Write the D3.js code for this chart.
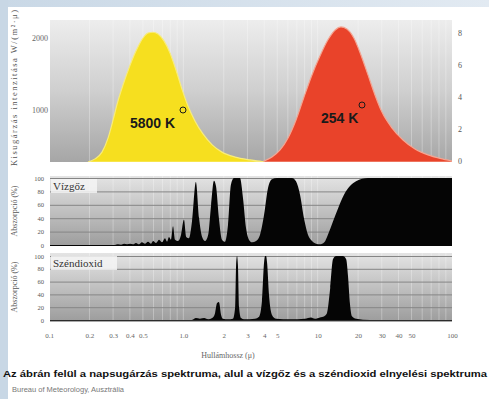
<!DOCTYPE html>
<html>
<head>
<meta charset="utf-8">
<script src="https://cdn.jsdelivr.net/npm/d3@7"></script>
<style>
  html, body { margin: 0; padding: 0; background: #fff; }
  svg { display: block; }
</style>
</head>
<body>
<svg id="chart" width="489" height="399"></svg>
<script>
// wavelength axis (micron, log)
var xTicks = [0.1, 0.2, 0.3, 0.4, 0.5, 1, 2, 3, 4, 5, 10, 20, 30, 40, 50, 100],
    xTickLabels = ["0.1", "0.2", "0.3", "0.4", "0.5", "1.0", "2", "3", "4", "5", "10", "20", "30", "40", "50", "100"];

var sunTicks = [1000, 2000],
    earthTicks = [0, 2, 4, 6, 8],
    absTicks = [0, 20, 40, 60, 80, 100];

// 5800 K sun curve (left axis)
var sunWave = [0.195, 0.22, 0.248, 0.275, 0.30, 0.321, 0.356, 0.401, 0.452, 0.501, 0.546, 0.595, 0.648,
               0.718, 0.796, 0.882, 0.977, 1.083, 1.22, 1.40, 1.64, 1.94, 2.43, 3.14, 3.85, 4.81];
var sunPower = [0, 60, 190, 460, 810, 1080, 1350, 1620, 1850, 2000, 2070, 2080, 2055,
                1960, 1790, 1555, 1290, 1055, 790, 540, 330, 190, 95, 40, 10, 0];

// 254 K earth curve (right axis)
var earthWave = [3.99, 4.57, 5.25, 6.02, 6.90, 7.91, 9.07, 10.4, 11.9, 13.5, 14.9, 16.5,
                 18.6, 21.0, 23.7, 26.7, 30.1, 35.8, 43.2, 53.0, 66.3, 81.5, 100];
var earthPower = [0, 0.25, 0.69, 1.44, 2.56, 4.0, 5.38, 6.56, 7.56, 8.19, 8.38, 8.25,
                  7.69, 6.63, 5.38, 4.13, 3.06, 2.06, 1.31, 0.75, 0.38, 0.16, 0];

// water vapour absorption (%)
var waterWave = [0.1, 0.310, 0.326, 0.344, 0.362, 0.381, 0.401, 0.422, 0.444, 0.468, 0.492, 0.518,
                 0.546, 0.575, 0.595, 0.626, 0.659, 0.694, 0.730, 0.756, 0.782, 0.809, 0.838, 0.867,
                 0.913, 0.961, 1.01, 1.05, 1.10, 1.16, 1.24, 1.31, 1.38, 1.45, 1.53, 1.61, 1.69, 1.75,
                 1.84, 1.94, 2.04, 2.15, 2.26, 2.38, 2.64, 2.78, 2.93, 3.08, 3.25, 3.48, 3.72, 3.99,
                 4.27, 4.57, 4.98, 6.44, 6.90, 7.39, 7.91, 8.48, 9.08, 9.72, 10.4, 11.2, 11.9, 13.0,
                 14.2, 15.7, 17.4, 19.3, 21.4, 23.7, 100];
var waterAbs = [0, 0, 1, 0.5, 2, 1, 2, 1, 3, 1, 4, 2,
                5, 2, 6, 3, 8, 4, 10, 5, 12, 8, 28, 8,
                6, 15, 38, 12, 10, 35, 94, 40, 12, 6, 15, 60, 96, 88,
                40, 8, 5, 30, 90, 100, 100, 70, 25, 8, 4, 6, 15, 45,
                85, 98, 100, 100, 95, 75, 40, 15, 6, 2, 1, 4, 15, 35,
                55, 75, 88, 95, 99, 100, 100];

// carbon dioxide absorption (%)
var co2Wave = [0.1, 1.16, 1.24, 1.33, 1.43, 1.53, 1.64, 1.72, 1.78, 1.84, 1.91, 1.97, 2.15,
               2.34, 2.43, 2.47, 2.51, 2.55, 2.60, 2.69, 2.83, 3.42, 3.66, 3.85, 3.99, 4.06,
               4.13, 4.20, 4.34, 4.57, 4.90, 6.23, 8.05, 8.92, 9.55, 10.4, 11.2, 11.7, 12.4,
               13.0, 13.7, 15.4, 16.3, 16.8, 17.4, 18.0, 19.3, 24.5, 100];
var co2Abs = [0, 0, 3, 2, 3, 1, 3, 10, 26, 28, 8, 2, 1,
              2, 20, 85, 100, 85, 20, 3, 1, 2, 5, 30, 90, 100,
              100, 90, 40, 8, 2, 1, 2, 4, 2, 4, 6, 10, 50,
              95, 100, 100, 95, 70, 25, 6, 2, 0, 0];

var svg = d3.select("#chart");
var serif = "'Liberation Serif', 'DejaVu Serif', serif",
    sans = "'Liberation Sans', Arial, sans-serif";

//^^^^^^^^^^^^^^^^^^^^^^^^^^^^^^^^^^^^^^^^^^^^^^^^^^^^^^^^^^^^^^^^^^^^^^^^^^^^^^
// Scales
//------------------------------------------------------------------------------
var x = d3.scaleLog().domain([0.1, 100]).range([49, 452]);

var ySun = d3.scaleLinear().domain([0, 1000, 2000]).range([162, 110, 38]),
    yEarth = d3.scaleLinear().domain([0, 8]).range([161, 33]),
    yWater = d3.scaleLinear().domain([0, 100]).range([245, 178]),
    yCo2 = d3.scaleLinear().domain([0, 100]).range([320, 256]);

var panels = [
    { id: "sun", top: 20, bottom: 162 },
    { id: "water", top: 176, bottom: 246, y: yWater, label: "Vízgőz", labelW: 46 },
    { id: "co2", top: 253, bottom: 321, y: yCo2, label: "Széndioxid", labelW: 66 }
];

//^^^^^^^^^^^^^^^^^^^^^^^^^^^^^^^^^^^^^^^^^^^^^^^^^^^^^^^^^^^^^^^^^^^^^^^^^^^^^^
// Gradients
//------------------------------------------------------------------------------
var defs = svg.append("defs");

function vGrad(id, stops) {
    var g = defs.append("linearGradient")
        .attr("id", id)
        .attr("x1", 0).attr("y1", 0)
        .attr("x2", 0).attr("y2", 1);
    stops.forEach(function(s) {
        g.append("stop").attr("offset", s[0]).attr("stop-color", s[1]);
    });
}

vGrad("bgSun", [[0, "#ededed"], [0.5, "#cfcfcf"], [1, "#a6a6a6"]]);
vGrad("bgAbs", [[0, "#e4e4e4"], [1, "#9d9d9d"]]);

var hg = defs.append("linearGradient").attr("id", "strip")
    .attr("x1", 0).attr("x2", 1).attr("y1", 0).attr("y2", 0);
hg.append("stop").attr("offset", 0).attr("stop-color", "#c9d8e6");
hg.append("stop").attr("offset", 1).attr("stop-color", "#e2eaf2");

panels.forEach(function(p) {
    defs.append("clipPath").attr("id", "clip-" + p.id)
        .append("rect")
        .attr("x", 50).attr("y", p.top)
        .attr("width", 402).attr("height", p.bottom - p.top);
});

//^^^^^^^^^^^^^^^^^^^^^^^^^^^^^^^^^^^^^^^^^^^^^^^^^^^^^^^^^^^^^^^^^^^^^^^^^^^^^^
// Page frame (light blue strips)
//------------------------------------------------------------------------------
svg.append("rect").attr("width", 489).attr("height", 399).attr("fill", "#ffffff");
svg.append("rect").attr("x", 0).attr("y", 0).attr("width", 489).attr("height", 7)
    .attr("fill", "url(#strip)");
svg.append("rect").attr("x", 0).attr("y", 0).attr("width", 8).attr("height", 399)
    .attr("fill", "#c8d7e5");

//^^^^^^^^^^^^^^^^^^^^^^^^^^^^^^^^^^^^^^^^^^^^^^^^^^^^^^^^^^^^^^^^^^^^^^^^^^^^^^
// Panel backgrounds, faint log grid, horizontal bands
//------------------------------------------------------------------------------
var minor = x.ticks();

panels.forEach(function(p) {
    var g = svg.append("g").attr("class", "panel-" + p.id);

    g.append("rect")
        .attr("x", 50).attr("y", p.top)
        .attr("width", 402).attr("height", p.bottom - p.top)
        .attr("fill", p.id === "sun" ? "url(#bgSun)" : "url(#bgAbs)");

    g.selectAll("line.v")
        .data(minor.filter(function(d) { return d > 0.1 && d < 100; }))
        .enter().append("line")
        .attr("class", "v")
        .attr("x1", function(d) { return x(d); })
        .attr("x2", function(d) { return x(d); })
        .attr("y1", p.top).attr("y2", p.bottom)
        .attr("stroke", "#ffffff")
        .attr("stroke-opacity", 0.3)
        .attr("stroke-width", 1);

    if (p.y) {
        g.selectAll("line.h")
            .data(absTicks)
            .enter().append("line")
            .attr("class", "h")
            .attr("x1", 50).attr("x2", 452)
            .attr("y1", function(d) { return p.y(d) + 0.5; })
            .attr("y2", function(d) { return p.y(d) + 0.5; })
            .attr("stroke", "#858585")
            .attr("stroke-width", 1);
    }
});

//^^^^^^^^^^^^^^^^^^^^^^^^^^^^^^^^^^^^^^^^^^^^^^^^^^^^^^^^^^^^^^^^^^^^^^^^^^^^^^
// Emission curves
//------------------------------------------------------------------------------
function toPoints(wave, vals) {
    return wave.map(function(w, i) { return [w, vals[i]]; });
}

var sunArea = d3.area()
    .x(function(d) { return x(d[0]); })
    .y0(ySun(0))
    .y1(function(d) { return ySun(d[1]); })
    .curve(d3.curveMonotoneX);

var earthArea = d3.area()
    .x(function(d) { return x(d[0]); })
    .y0(yEarth(0) + 1)
    .y1(function(d) { return yEarth(d[1]); })
    .curve(d3.curveMonotoneX);

var curves = svg.append("g").attr("clip-path", "url(#clip-sun)");

curves.append("path")
    .datum(toPoints(sunWave, sunPower))
    .attr("d", sunArea)
    .attr("fill", "#f6df1f")
    .attr("stroke", "#f8ec7a")
    .attr("stroke-width", 1.2);

curves.append("path")
    .datum(toPoints(earthWave, earthPower))
    .attr("d", earthArea)
    .attr("fill", "#e9432a")
    .attr("stroke", "#f4a592")
    .attr("stroke-width", 1.2);

function kelvin(txt, xp, yp, cx, cy) {
    svg.append("text")
        .attr("x", xp).attr("y", yp)
        .attr("font-family", sans)
        .attr("font-weight", "bold")
        .attr("font-size", 14)
        .attr("fill", "#1a1a1a")
        .text(txt);
    svg.append("circle")
        .attr("cx", cx).attr("cy", cy).attr("r", 3)
        .attr("fill", "none")
        .attr("stroke", "#1a1a1a")
        .attr("stroke-width", 1);
}
kelvin("5800 K", 130, 128, 183, 110);
kelvin("254 K", 321, 123, 362, 105);

//^^^^^^^^^^^^^^^^^^^^^^^^^^^^^^^^^^^^^^^^^^^^^^^^^^^^^^^^^^^^^^^^^^^^^^^^^^^^^^
// Absorption spectra
//------------------------------------------------------------------------------
[
    { p: panels[1], pts: toPoints(waterWave, waterAbs) },
    { p: panels[2], pts: toPoints(co2Wave, co2Abs) }
].forEach(function(s) {
    var area = d3.area()
        .x(function(d) { return x(d[0]); })
        .y0(s.p.y(0) + 1)
        .y1(function(d) { return s.p.y(d[1]); })
        .curve(d3.curveMonotoneX);

    svg.append("path")
        .datum(s.pts)
        .attr("clip-path", "url(#clip-" + s.p.id + ")")
        .attr("d", area)
        .attr("fill", "#050505");

    // gas name box
    svg.append("rect")
        .attr("x", 51).attr("y", s.p.top + 3)
        .attr("width", s.p.labelW).attr("height", 14)
        .attr("fill", "#f4f4f4")
        .attr("fill-opacity", 0.85);
    svg.append("text")
        .attr("x", 53).attr("y", s.p.top + 14)
        .attr("font-family", serif)
        .attr("font-size", 11)
        .attr("fill", "#333")
        .text(s.p.label);

    var ax = svg.append("g")
        .attr("transform", "translate(44,0)")
        .call(d3.axisLeft(s.p.y).tickValues(absTicks).tickSize(0).tickPadding(0));
    ax.select(".domain").remove();
    ax.selectAll("text")
        .attr("font-family", serif)
        .attr("font-size", 6.5)
        .attr("fill", "#555");

    svg.append("text")
        .attr("transform", "translate(17," + ((s.p.top + s.p.bottom) / 2) + ") rotate(-90)")
        .attr("text-anchor", "middle")
        .attr("font-family", serif)
        .attr("font-size", 8)
        .attr("fill", "#555")
        .text("Abszorpció (%)");
});

// bottom edge of the lower panel
svg.append("line")
    .attr("x1", 50).attr("x2", 452)
    .attr("y1", 321).attr("y2", 321)
    .attr("stroke", "#555").attr("stroke-width", 1);

//^^^^^^^^^^^^^^^^^^^^^^^^^^^^^^^^^^^^^^^^^^^^^^^^^^^^^^^^^^^^^^^^^^^^^^^^^^^^^^
// Axes of the emission panel
//------------------------------------------------------------------------------
var axL = svg.append("g")
    .attr("transform", "translate(49,0)")
    .call(d3.axisLeft(ySun).tickValues(sunTicks).tickSize(0).tickPadding(1).tickFormat(d3.format("d")));
axL.select(".domain").remove();
axL.selectAll("text").attr("font-family", serif).attr("font-size", 8).attr("fill", "#666");

var axR = svg.append("g")
    .attr("transform", "translate(457,0)")
    .call(d3.axisRight(yEarth).tickValues(earthTicks).tickSize(0).tickPadding(1));
axR.select(".domain").remove();
axR.selectAll("text").attr("font-family", serif).attr("font-size", 8).attr("fill", "#555");

svg.append("text")
    .attr("transform", "translate(17,166) rotate(-90)")
    .attr("font-family", serif)
    .attr("font-size", 8.5)
    .attr("textLength", 156)
    .attr("lengthAdjust", "spacing")
    .attr("fill", "#555")
    .text("Kisugárzás intenzitása W/(m²·μ)");

//^^^^^^^^^^^^^^^^^^^^^^^^^^^^^^^^^^^^^^^^^^^^^^^^^^^^^^^^^^^^^^^^^^^^^^^^^^^^^^
// Wavelength axis and captions
//------------------------------------------------------------------------------
var axB = svg.append("g")
    .attr("transform", "translate(0,330)")
    .call(d3.axisBottom(x)
        .tickValues(xTicks)
        .tickSize(0)
        .tickFormat(function(d, i) { return xTickLabels[i]; }));
axB.select(".domain").remove();
axB.selectAll("text").attr("font-family", serif).attr("font-size", 7).attr("fill", "#666");

svg.append("text")
    .attr("x", 228).attr("y", 358)
    .attr("text-anchor", "middle")
    .attr("font-family", serif)
    .attr("font-size", 8)
    .attr("fill", "#666")
    .text("Hullámhossz (μ)");

svg.append("text")
    .attr("x", 3).attr("y", 377)
    .attr("font-family", sans)
    .attr("font-weight", "bold")
    .attr("font-size", 9)
    .attr("textLength", 484)
    .attr("lengthAdjust", "spacingAndGlyphs")
    .attr("fill", "#111")
    .text("Az ábrán felül a napsugárzás spektruma, alul a vízgőz és a széndioxid elnyelési spektruma");

svg.append("text")
    .attr("x", 12).attr("y", 392)
    .attr("font-family", sans)
    .attr("font-size", 7.5)
    .attr("fill", "#777")
    .text("Bureau of Meteorology, Ausztrália");
</script>
</body>
</html>
